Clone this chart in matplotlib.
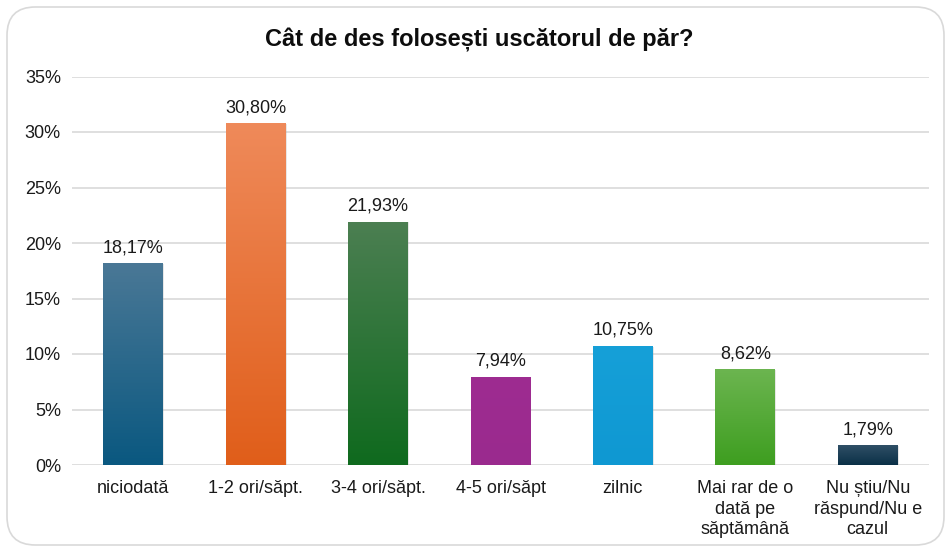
import matplotlib
matplotlib.use("Agg")
import matplotlib.pyplot as plt
import numpy as np
from matplotlib.colors import LinearSegmentedColormap
from matplotlib.patches import FancyBboxPatch

categories = ['niciodată', '1-2 ori/săpt.', '3-4 ori/săpt.', '4-5 ori/săpt', 'zilnic',
              'Mai rar de o\ndată pe\nsăptămână', 'Nu știu/Nu\nrăspund/Nu e\ncazul']
values = [18.17, 30.80, 21.93, 7.94, 10.75, 8.62, 1.79]
value_labels = ['18,17%', '30,80%', '21,93%', '7,94%', '10,75%', '8,62%', '1,79%']
yticks = [0, 5, 10, 15, 20, 25, 30, 35]
ytick_labels = ['0%', '5%', '10%', '15%', '20%', '25%', '30%', '35%']

# (top colour, bottom colour) of each bar's gradient
bar_colors = [('#4a7896', '#0a5880'),
              ('#ef8a5a', '#e05e1a'),
              ('#4c7f52', '#0f6a1e'),
              ('#9e2c91', '#9a2a8e'),
              ('#16a0d8', '#0f98d2'),
              ('#6cb550', '#3e9e20'),
              ('#2f4f66', '#0b3047')]

plt.rcParams['font.family'] = ['Liberation Sans', 'DejaVu Sans']

fig = plt.figure(figsize=(9.46, 5.49), dpi=100)
fig.patch.set_facecolor('white')

# rounded frame around the chart
frame = FancyBboxPatch((7 / 946, 4 / 549), 937 / 946, 538 / 549,
                       boxstyle='round,pad=0,rounding_size=0.03',
                       transform=fig.transFigure, facecolor='none',
                       edgecolor='#d9d9d9', linewidth=1.2, mutation_aspect=946 / 549)
fig.patches.append(frame)

ax = fig.add_axes([72 / 946, 84 / 549, 857 / 946, 388.5 / 549])
x = np.arange(len(categories))

ax.set_axisbelow(True)
ax.yaxis.grid(True, color='#d9d9d9', linewidth=1.2)
for s in ax.spines.values():
    s.set_visible(False)

bars = ax.bar(x, values, width=0.49, color='none', zorder=3)
grad = np.linspace(0, 1, 256).reshape(-1, 1)
for b, (top, bottom) in zip(bars, bar_colors):
    cmap = LinearSegmentedColormap.from_list('g', [top, bottom])
    x0, y0 = b.get_x(), b.get_y()
    w, h = b.get_width(), b.get_height()
    # soft shadow
    ax.add_patch(plt.Rectangle((x0 + 0.008, y0), w, h - 0.08, facecolor='#b0b0b0',
                               alpha=0.3, edgecolor='none', zorder=2))
    im = ax.imshow(grad, cmap=cmap, extent=(x0, x0 + w, y0, y0 + h),
                   aspect='auto', origin='upper', zorder=3)
    im.set_clip_path(b)

for xi, v, lab in zip(x, values, value_labels):
    ax.annotate(lab, (xi, v), xytext=(0, 5), textcoords='offset points',
                ha='center', va='bottom', fontsize=13, color='#1a1a1a')

ax.set_xlim(-0.5, len(categories) - 0.5)
ax.set_ylim(0, 35)
ax.set_yticks(yticks)
ax.set_yticklabels(ytick_labels, fontsize=13, color='#1a1a1a')
ax.set_xticks(x)
ax.set_xticklabels(categories, fontsize=13, color='#1a1a1a', linespacing=1.25)
ax.tick_params(axis='both', length=0)
ax.tick_params(axis='y', pad=8)
ax.tick_params(axis='x', pad=11)

fig.text(479 / 946, 1 - 40 / 549, 'Cât de des folosești uscătorul de păr?',
         ha='center', va='center', fontsize=17, fontweight='bold', color='#0d0d0d')

fig.savefig('out.png', dpi=100)
